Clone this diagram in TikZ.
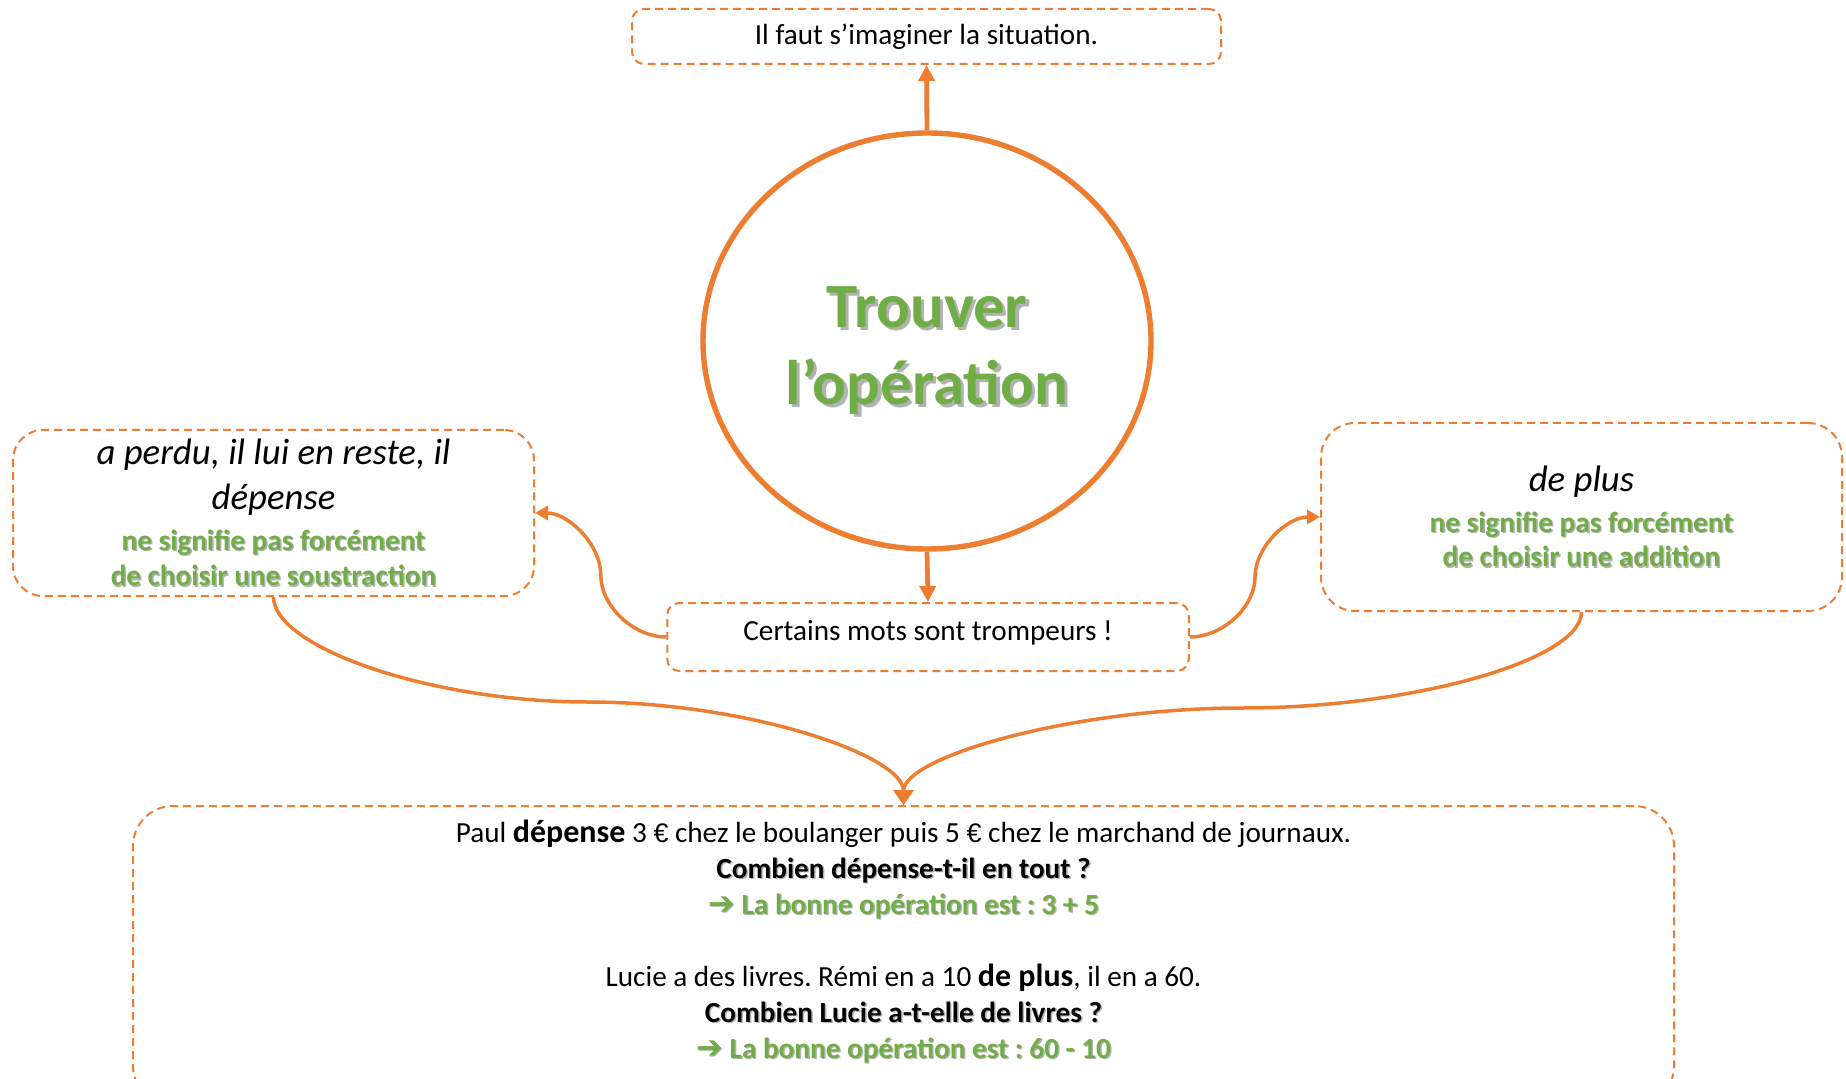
\documentclass[tikz,border=0pt]{standalone}
\usepackage{fontspec}
\setmainfont{Carlito}
\newfontfamily\fleches{DejaVu Sans}
\newfontfamily\euros{Liberation Sans}
\usetikzlibrary{shapes.geometric,arrows.meta}
\definecolor{orangeo}{HTML}{ED7D31}
\definecolor{verto}{HTML}{70AD47}
\frenchspacing
\newcommand\ombre[1]{\leavevmode\rlap{\kern0.05em\raisebox{-0.05em}{\color{black!30}#1}}#1}
\newcommand\cote[1]{{\fontsize{18.4}{22}\selectfont\itshape #1}}
\newcommand\vertg[1]{{\color{verto}\bfseries\ombre{#1}}}
\newcommand\grasg[1]{{\fontsize{16}{18}\selectfont\bfseries #1}}
\newcommand\eur{{\euros\fontsize{13.4}{18}\selectfont €}}

\begin{document}
\begin{tikzpicture}[x=0.5pt,y=-0.5pt,
    boite/.style={draw=orangeo, dash pattern=on 4pt off 2.5pt, line width=1pt,
      rounded corners=6pt, align=center, inner sep=0pt},
    lien/.style={orangeo, line width=1.75pt, -{Triangle[length=6.5pt,width=7pt]}},
    epais/.style={orangeo, line width=2.4pt, -{Triangle[length=8pt,width=8pt]}},
    normal/.style={font=\fontsize{14.6}{17.6}\selectfont}]
  \useasboundingbox (0,0) rectangle (1846,1079);

  % le cercle central
  \node[ellipse, draw=orangeo, line width=2.7pt, minimum width=224pt, minimum height=208pt,
    inner sep=0pt] (cercle) at (927,341) {};
  \node[align=center, text=verto, font=\fontsize{31.5}{38.3}\selectfont\bfseries] (titre)
    at (927,352) {\ombre{Trouver}\\\ombre{l’opération}};

  \node[boite, normal, minimum width=294.5pt, minimum height=27.5pt] (haut) at (926.5,36.5)
    {Il faut s’imaginer la situation.};
  \node[boite, normal, minimum width=260.75pt, minimum height=34pt,
    text height=10pt, text depth=7pt] (milieu) at (928,637) {Certains mots sont trompeurs !};

  \node[boite, rounded corners=15pt, minimum width=260.5pt, minimum height=83pt,
    font=\fontsize{14.6}{17.65}\selectfont] (gauche) at (273.5,513)
    {\cote{a perdu, il lui en reste, il}\\[4.75pt]\cote{dépense}\\[2.95pt]
     \vertg{ne signifie pas forcément}\\\vertg{de choisir une soustraction}};
  \node[boite, rounded corners=17pt, minimum width=260.5pt, minimum height=94pt,
    font=\fontsize{14.6}{17.05}\selectfont] (droite) at (1581.5,517)
    {\cote{de plus}\\[3.55pt]\vertg{ne signifie pas forcément}\\\vertg{de choisir une addition}};

  % les exemples
  \node[boite, rounded corners=20pt, anchor=north, minimum width=770.5pt, minimum height=150pt]
    (bas) at (903.5,805) {};
  \node[align=center, font=\fontsize{14.6}{18}\selectfont] (exemples) at (903.5,942)
    {Paul \grasg{dépense} 3 \eur{} chez le boulanger puis 5 \eur{} chez le marchand de journaux.\\
     \textbf{\ombre{Combien dépense-t-il en tout ?}}\\
     \vertg{{\fleches\fontsize{16}{18}\selectfont ➔} La bonne opération est : 3 + 5}\\[18pt]
     Lucie a des livres. Rémi en a 10 \grasg{de plus}, il en a 60.\\
     \textbf{\ombre{Combien Lucie a-t-elle de livres ?}}\\
     \vertg{{\fleches\fontsize{16}{18}\selectfont ➔} La bonne opération est : 60 - 10}};

  \coordinate (coudeG) at (600.75,575);
  \coordinate (coudeD) at (1255,577);
  \coordinate (creuxG) at (588,702);
  \coordinate (creuxD) at (1242.5,708);

  \draw[epais] (cercle.north) -- (haut.south);
  \draw[epais] (cercle.south) -- (milieu.north);
  \draw[lien] (milieu.west) .. controls +(-33,0) and +(0,31) .. (coudeG)
    .. controls +(0,-31) and +(33,0) .. (gauche.east);
  \draw[lien] (milieu.east) .. controls +(33,0) and +(0,30) .. (coudeD)
    .. controls +(0,-30) and +(-33,0) .. (droite.west);
  \draw[lien, -{Triangle[length=7.5pt,width=10pt]}] (gauche.south)
    .. controls +(0,50) and +(-158,0) .. (creuxG)
    .. controls +(158,0) and +(0,-50) .. (bas.north);
  \draw[lien, -{Triangle[length=7.5pt,width=10pt]}] (droite.south)
    .. controls +(0,48) and +(170,0) .. (creuxD)
    .. controls +(-170,0) and +(0,-48) .. (bas.north);
\end{tikzpicture}
\end{document}
